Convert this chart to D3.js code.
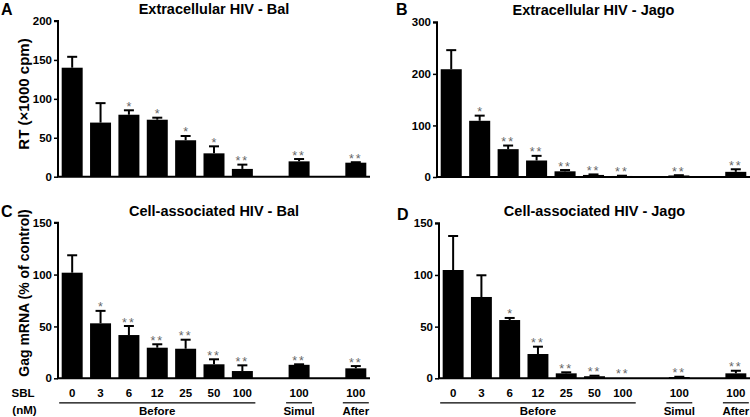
<!DOCTYPE html>
<html><head><meta charset="utf-8">
<script src="https://cdn.jsdelivr.net/npm/d3@7"></script>
<style>
html,body{margin:0;padding:0;background:#fff;}
svg{display:block;font-family:"Liberation Sans",Arial,sans-serif;}
</style></head>
<body>
<svg id="chart" width="750" height="417"></svg>
<script>
// ---- data ----
const doses  = ["0","3","6","12","25","50","100","100","100"];
const groups = ["Before","Before","Before","Before","Before","Before","Before","Simul","After"];

const titleA = "Extracellular HIV - Bal";
const valuesA = [140, 69.5, 79.6, 73.2, 46.8, 30, 10, 19.7, 18];
const errA    = [14, 25, 5.7, 2.6, 5.5, 9, 5.5, 3, 0.6];
const starsA  = ["", "", "*", "*", "*", "*", "**", "**", "**"];
const ticksA  = [0, 50, 100, 150, 200];

const titleB = "Extracellular HIV - Jago";
const valuesB = [209, 109, 54, 32, 11, 4, 2, 3, 10];
const errB    = [37, 10, 7, 9, 2.5, 1, 0.5, 0.5, 5];
const starsB  = ["", "*", "**", "**", "**", "**", "**", "**", "**"];
const ticksB  = [0, 100, 200, 300];

const titleC = "Cell-associated HIV - Bal";
const valuesC = [101.8, 53, 41.7, 29.5, 28.5, 13.5, 7, 13, 9.6];
const errC    = [16.8, 12, 8.7, 3.3, 8.7, 4.8, 5.5, 0.5, 2.2];
const starsC  = ["", "*", "**", "**", "**", "**", "**", "**", "**"];
const ticksC  = [0, 50, 100, 150];

const titleD = "Cell-associated HIV - Jago";
const valuesD = [104.8, 78.7, 56.4, 23.5, 4.8, 2, 0.3, 1.2, 4.8];
const errD    = [32.9, 21, 2, 7.1, 1, 0.5, 0, 0.3, 2.5];
const starsD  = ["", "", "*", "**", "**", "**", "**", "**", "**"];
const ticksD  = [0, 50, 100, 150];

const yLabelTop = "RT (\u00d71000 cpm)";
const yLabelBottom = "Gag mRNA (% of control)";

// ---- slot layout: gaps between group changes ----
const slotKeys = [];
doses.forEach((d, i) => {
  if (i > 0 && groups[i] !== groups[i-1]) slotKeys.push("gap" + i);
  slotKeys.push("s" + i);
});

const svg = d3.select("#chart");

function panel(opt) {
  const g = svg.append("g");
  const x = d3.scaleBand().domain(slotKeys).range([opt.x0, opt.x1]).paddingInner(0).paddingOuter(0);
  const y = d3.scaleLinear().domain([0, opt.ymax]).range([opt.yb, opt.yt]);
  const bw = x.bandwidth() * 0.74;
  const cx = i => x("s" + i) + x.bandwidth() / 2;

  // title
  g.append("text").attr("x", (opt.x0 + opt.x1) / 2).attr("y", opt.yt - 7)
    .attr("text-anchor", "middle").attr("font-weight", "bold").attr("font-size", 14.5)
    .text(opt.title);
  // panel letter
  g.append("text").attr("x", opt.lx).attr("y", opt.ly)
    .attr("font-weight", "bold").attr("font-size", 16).text(opt.letter);

  // bars
  opt.values.forEach((v, i) => {
    g.append("rect").attr("x", cx(i) - bw / 2).attr("width", bw)
      .attr("y", y(v)).attr("height", y(0) - y(v)).attr("fill", "#000");
    const top = y(v + opt.err[i]);
    if (opt.err[i] > 0) {
      g.append("line").attr("x1", cx(i)).attr("x2", cx(i)).attr("y1", y(v)).attr("y2", top)
        .attr("stroke", "#000").attr("stroke-width", 2);
      g.append("line").attr("x1", cx(i) - 5).attr("x2", cx(i) + 5).attr("y1", top).attr("y2", top)
        .attr("stroke", "#000").attr("stroke-width", 2);
    }
    if (opt.stars[i]) {
      g.append("text").attr("x", cx(i)).attr("y", Math.min(top, y(v)) + 0.5)
        .attr("text-anchor", "middle").attr("font-size", 12.5).attr("fill", "#666")
        .attr("letter-spacing", opt.stars[i].length > 1 ? 2 : 0)
        .text(opt.stars[i]);
    }
  });

  // y axis
  const ya = g.append("g").attr("transform", `translate(${opt.x0},0)`)
    .call(d3.axisLeft(y).tickValues(opt.ticks).tickSize(4).tickPadding(2).tickFormat(d3.format("d")));
  ya.select(".domain").attr("stroke-width", 2).attr("d", `M-4,${opt.yt}H0V${opt.yb}`);
  ya.selectAll(".tick line").attr("stroke-width", 1.5);
  ya.selectAll(".tick text").attr("font-size", 11.5).attr("font-weight", "bold")
    .attr("font-family", "'Liberation Sans',Arial,sans-serif").attr("fill", "#000");

  // x axis baseline
  g.append("line").attr("x1", opt.x0 - 1).attr("x2", opt.x1).attr("y1", opt.yb).attr("y2", opt.yb)
    .attr("stroke", "#000").attr("stroke-width", 2);

  // y label
  if (opt.ylabel) {
    g.append("text").attr("transform", `translate(${opt.ylx},${opt.ylc}) rotate(-90)`)
      .attr("text-anchor", "middle").attr("font-weight", "bold").attr("font-size", opt.ylfs)
      .text(opt.ylabel);
  }

  // x tick labels and group lines
  if (opt.xlabels) {
    doses.forEach((d, i) => {
      g.append("text").attr("x", cx(i)).attr("y", opt.yb + 19)
        .attr("text-anchor", "middle").attr("font-weight", "bold").attr("font-size", 11.5)
        .text(d);
    });
    const uniq = [...new Set(groups)];
    uniq.forEach(gr => {
      const idx = groups.map((v, i) => v === gr ? i : -1).filter(i => i >= 0);
      const a = cx(idx[0]) - bw / 2 - 2.5, b = cx(idx[idx.length - 1]) + bw / 2 + 2.5;
      g.append("line").attr("x1", a).attr("x2", b).attr("y1", opt.yb + 24.5).attr("y2", opt.yb + 24.5)
        .attr("stroke", "#000").attr("stroke-width", 1.2);
      g.append("text").attr("x", (a + b) / 2).attr("y", opt.yb + 36.5)
        .attr("text-anchor", "middle").attr("font-weight", "bold").attr("font-size", 11.5)
        .text(gr);
    });
  }
}

panel({x0: 58, x1: 370, yt: 21, yb: 176.7, ymax: 200, ticks: ticksA, values: valuesA, err: errA, stars: starsA,
  title: titleA, letter: "A", lx: 1, ly: 15, ylabel: yLabelTop, ylx: 29, ylfs: 15, ylc: 94});
panel({x0: 437, x1: 750, yt: 22.3, yb: 177, ymax: 300, ticks: ticksB, values: valuesB, err: errB, stars: starsB,
  title: titleB, letter: "B", lx: 396, ly: 15});
panel({x0: 58, x1: 370, yt: 222.7, yb: 378.3, ymax: 150, ticks: ticksC, values: valuesC, err: errC, stars: starsC,
  title: titleC, letter: "C", lx: 1, ly: 217, ylabel: yLabelBottom, ylx: 29, ylfs: 14, ylc: 293, xlabels: true});
panel({x0: 439, x1: 750, yt: 223.3, yb: 378.3, ymax: 150, ticks: ticksD, values: valuesD, err: errD, stars: starsD,
  title: titleD, letter: "D", lx: 397, ly: 220, xlabels: true});

// SBL (nM) label
svg.append("text").attr("x", 23).attr("y", 397).attr("text-anchor", "middle")
  .attr("font-weight", "bold").attr("font-size", 11.5).text("SBL");
svg.append("text").attr("x", 24.5).attr("y", 414).attr("text-anchor", "middle")
  .attr("font-weight", "bold").attr("font-size", 11.5).text("(nM)");
</script>
</body></html>
